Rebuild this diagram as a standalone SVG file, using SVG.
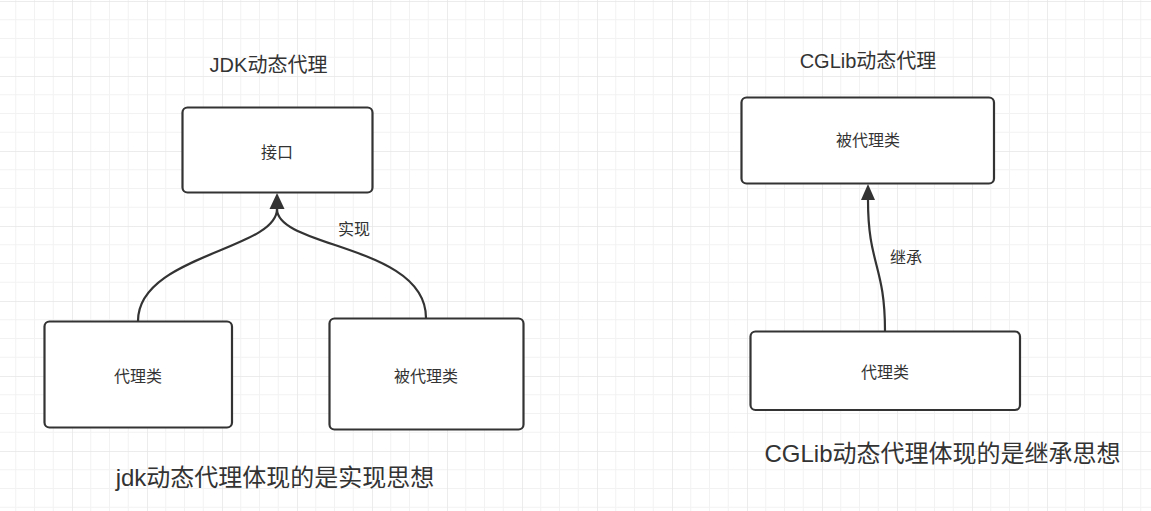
<svg xmlns="http://www.w3.org/2000/svg" width="1151" height="511" viewBox="0 0 1151 511">
<style>
.box{fill:#ffffff;stroke:#333333;stroke-width:2.2}
.lbl{font-family:"Liberation Sans","Noto Sans CJK SC",sans-serif;font-size:16px;fill:#333333;text-anchor:middle}
.title{font-family:"Liberation Sans","Noto Sans CJK SC",sans-serif;font-size:20px;fill:#333333;text-anchor:middle}
.big{font-family:"Liberation Sans","Noto Sans CJK SC",sans-serif;fill:#333333;text-anchor:middle}
.edge{fill:none;stroke:#333333;stroke-width:2.2}
</style>
<defs>
<pattern id="grid" width="75" height="75" patternUnits="userSpaceOnUse" x="-3" y="1">
<path d="M18.75 0V75M37.5 0V75M56.25 0V75M0 18.75H75M0 37.5H75M0 56.25H75" stroke="#f2f2f2" stroke-width="1" fill="none"/>
<path d="M0 0V75M0 0H75" stroke="#e6e6e6" stroke-width="1.5" fill="none"/>
</pattern>
</defs>
<rect width="1151" height="511" fill="#ffffff"/>
<rect width="1151" height="511" fill="url(#grid)"/>

<g id="connectors">
<path class="edge" d="M138,321 C138,255 277,250 277,209"/>
<path class="edge" d="M426,318 C426,245 277,248 277,209"/>
<path d="M277,193 L284.5,209 L269.5,209 Z" fill="#333333"/>
<path class="edge" d="M885,331 C885,265 868,265 868,200"/>
<path d="M868,184 L875,200 L861,200 Z" fill="#333333"/>
<text class="lbl" x="354" y="235">实现</text>
<text class="lbl" x="906" y="263">继承</text>
</g>

<g id="title-jdk"><text class="title" x="268.5" y="72">JDK动态代理</text></g>
<g id="title-cglib"><text class="title" x="868" y="68">CGLib动态代理</text></g>

<g id="node-interface">
<rect class="box" x="182.5" y="107.5" width="190" height="85" rx="5"/>
<text class="lbl" x="277" y="158">接口</text>
</g>
<g id="node-proxy-jdk">
<rect class="box" x="44.5" y="321.5" width="187.5" height="106" rx="5"/>
<text class="lbl" x="138" y="382">代理类</text>
</g>
<g id="node-target-jdk">
<rect class="box" x="329.5" y="318.5" width="194" height="111" rx="5"/>
<text class="lbl" x="426" y="382">被代理类</text>
</g>
<g id="node-target-cglib">
<rect class="box" x="741.5" y="97.5" width="252.5" height="86" rx="5"/>
<text class="lbl" x="868" y="146">被代理类</text>
</g>
<g id="node-proxy-cglib">
<rect class="box" x="750.5" y="331.5" width="269.5" height="78.5" rx="5"/>
<text class="lbl" x="885" y="378">代理类</text>
</g>

<g id="note-jdk"><text class="big" x="275" y="486" font-size="24">jdk动态代理体现的是实现思想</text></g>
<g id="note-cglib"><text class="big" x="942.5" y="462" font-size="24">CGLib动态代理体现的是继承思想</text></g>
</svg>
